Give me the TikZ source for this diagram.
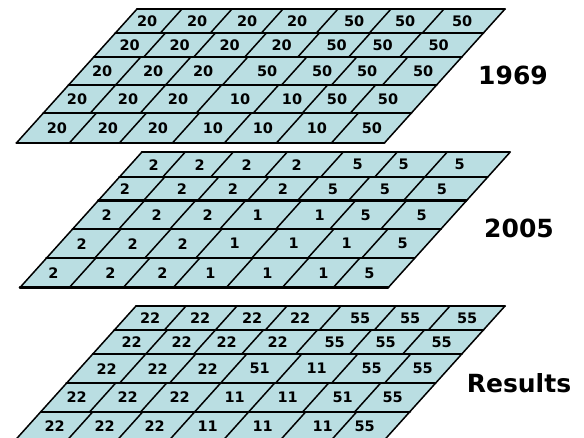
\documentclass[tikz,border=0pt]{standalone}
\usepackage{fontspec}
\setmainfont{DejaVu Sans}
\usepackage{tikz}
\usetikzlibrary{positioning}
\definecolor{sheetfill}{RGB}{186,222,226}
\tikzstyle{cell} = [inner sep=0pt, font=\bfseries\fontsize{14.5}{15}\selectfont]
\tikzstyle{year} = [inner sep=0pt, font=\bfseries\fontsize{25}{28}\selectfont]
\tikzstyle{rule} = [line width=2.4pt, line cap=round]
\tikzstyle{cut} = [line width=1.5pt]
% one slanted sheet: top, bottom, left, right, name, rows
\newcommand{\sheet}[6]{%
  \fill[sheetfill] ({#3},#1) -- ({#4},#1) -- ({#4-0.9*(#2-#1)},#2) -- ({#3-0.9*(#2-#1)},#2) -- cycle;
  \foreach \ya/\yb/\cuts/\vals [count=\row] in {#6} {
    \foreach \xc in \cuts
      \draw[cut] ({\xc-0.9*(\ya-#1)},\ya) -- ({\xc-0.9*(\yb-#1)},\yb);
    \foreach \pos/\lbl [count=\col] in \vals
      \node[cell] (#5-\row-\col) at ({\pos-0.9*((\ya+\yb)/2-#1)},{(\ya+\yb)/2}) {\lbl};
    \draw[rule] ({#3-0.9*(\yb-#1)},\yb) -- ({#4-0.9*(\yb-#1)},\yb);
  }
  \draw[rule] ({#3},#1) -- ({#4},#1);
  \draw[cut] ({#3},#1) -- ({#3-0.9*(#2-#1)},#2);
  \draw[cut] ({#4},#1) -- ({#4-0.9*(#2-#1)},#2);
}

\begin{document}
\begin{tikzpicture}[x=1pt, y=-1pt]
    \useasboundingbox (0,0) rectangle (584,438);
    \clip (0,0) rectangle (584,438);
    % 1969
    \sheet{9}{143}{137}{505}{old}{
      9/33/{182,232,283,338,391,444}/{158/20,208/20,258/20,308/20,365/50,416/50,473/50},
      33/57/{187,237,288,341,392,443}/{162/20,212/20,262/20,314/20,369/50,415/50,471/50},
      57/85/{184,234,291,350,400,451}/{158/20,209/20,259/20,323/50,378/50,423/50,479/50},
      85/113/{184,234,290,347,396,444}/{158/20,209/20,259/20,321/10,373/10,418/50,469/50},
      113/143/{190,240,293,345,397,452}/{164/20,215/20,265/20,320/10,370/10,424/10,479/50}}
    % 2005
    \sheet{152.3}{287.7}{141.7}{510}{new}{
      152.3/177.3/{185,233,287,343,397,447}/{165/2,211/2,258/2,308/2,369/5,415/5,471/5},
      177.3/200.7/{187,241,291,341,392,447}/{158/2,215/2,266/2,316/2,366/5,418/5,475/5},
      200.7/229/{188,239,289,345,399,450}/{163/2,213/2,264/2,314/1,376/1,422/5,478/5},
      229/258.3/{190,240,291,347,403,457}/{164/2,215/2,265/2,317/1,376/1,429/1,485/5},
      258.3/287.7/{191,245,295,348,404,455}/{162/2,219/2,271/2,319/1,376/1,432/1,478/5}}
    % results
    \sheet{306}{441}{136}{505}{res}{
      306/330/{186,237,287,341,396,450}/{161/22,211/22,263/22,311/22,371/55,421/55,478/55},
      330/354/{189,237,285,339,393,446}/{164/22,214/22,259/22,310/22,367/55,418/55,474/55},
      354/383.3/{189,239,290,345,401,454}/{163/22,214/22,264/22,316/51,373/11,428/55,479/55},
      383.3/411.7/{185,236,290,344,398,450}/{159/22,210/22,262/22,317/11,370/11,425/51,475/55},
      411.7/441/{188,238,290,344,401,452}/{163/22,213/22,263/22,316/11,371/11,431/11,473/55}}
    \node[year] (lbl1969) at (513,75) {1969};
    \node[year] (lbl2005) at (519,228) {2005};
    \node[year] (lblres) at (519,383) {Results};
\end{tikzpicture}
\end{document}
